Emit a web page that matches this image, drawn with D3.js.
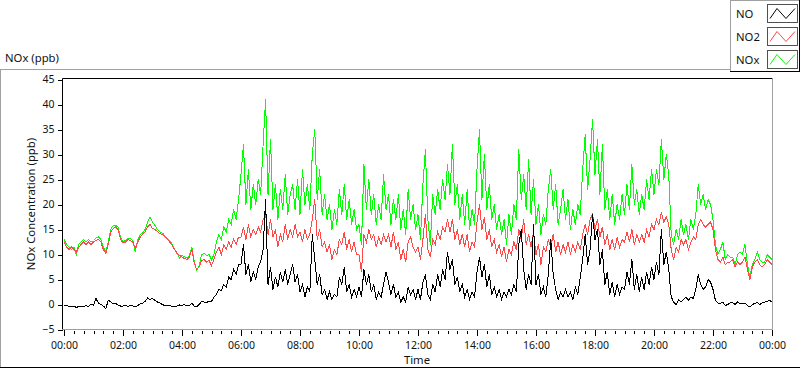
<!DOCTYPE html>
<html>
<head>
<meta charset="utf-8">
<script src="https://cdnjs.cloudflare.com/ajax/libs/d3/7.8.5/d3.min.js"></script>
<style>
  body { margin: 0; background: #fff; }
  text { font-family: "Noto Sans", "Open Sans", sans-serif; fill: #111; }
</style>
</head>
<body>
<div class="chart"></div>
<script>
var svgWidth = 800;
var svgHeight = 369;

// one reading every 5 minutes, 00:00 to 24:00
var stepMinutes = 5;

var noValues = [
  -0.3, -0.2, -0.4, -0.5, -0.3, -0.6, -0.4, -0.3, -0.5, -0.2, -0.4, 0.1,
  -0.2, 1.2, 0.3, 0, -0.3, -0.8, 0.8, 0.6, 0.1, 0.2, -0.1, -0.3,
  -0.3, -0.2, -0.4, -0.2, -0.3, -0.5, -0.2, 0.1, 0.3, 0.6, 1.3, 1.0,
  1.2, 0.8, 0.5, 0.3, 0, -0.2, -0.3, -0.2, -0.4, -0.5, -0.3, -0.1,
  -0.2, 0, -0.3, -0.2, 0.2, -0.3, -0.4, 0, 0.6, 0.5, 0.4, 0.7,
  0.6, 1.5, 2, 3, 2.8, 4, 3.5, 5.5, 5, 7, 6, 8,
  8, 12, 6, 8, 4.5, 6.5, 5, 7.5, 8.5, 11, 21, 4,
  7.5, 3, 5.5, 3.5, 6.5, 4.5, 7, 4, 6, 8, 4.5, 6,
  2.5, 4, 1.5, 3.5, 2.5, 14, 9, 4, 6, 2, 3, 1,
  2.5, 1, 2, 1.5, 5.5, 4, 7.5, 2.5, 4, 1.5, 3, 1.5,
  3.5, 1.5, 7, 4, 6, 2.5, 4, 1, 2.5, 1.5, 4, 6.5,
  4.5, 2, 4, 1.5, 2.5, 0.5, 1.5, 0.5, 3.5, 2, 3, 1,
  3, 1, 4.5, 6, 2, 1, 4, 2.5, 6, 3.5, 7, 5,
  10.5, 7, 9, 4, 5.5, 2.5, 4, 1.5, 3, 1, 2.5, 1.5,
  6.5, 9.5, 5.5, 8, 3.5, 6, 2, 3.5, 1.5, 3, 1, 2.5,
  1.5, 3, 2, 4, 2.5, 12, 15, 7, 3, 6, 4, 16,
  4, 6, 2, 3.5, 1.5, 6, 13, 6, 3, 1, 2.5, 1.5,
  3, 1.5, 2.5, 1, 3.5, 2, 5.5, 9, 14, 8, 11, 18,
  13, 15, 8, 11, 4, 6.5, 2, 4.5, 1.5, 4, 2, 3.5,
  3, 6.5, 4, 9, 3, 6, 2.5, 5.5, 3, 6.5, 4, 7.5,
  5, 8.5, 6, 15, 8, 10.5, 7, 1.5, 0.5, 0, 1, 0.5,
  1, 1.5, 0.8, 1.5, 1.2, 3, 6, 4, 3, 3.5, 5, 4.5,
  3, 0.8, 0.3, 0.2, 0.5, -0.2, 0, 0.3, 0.4, 0, 0.5, 0.2,
  0.2, 0.3, -0.2, -0.5, 0, 0.2, 0.4, 0, 0.3, 0.5, 0.6, 0.8, 0.5
];

var no2Values = [
  12.5, 11.5, 11, 11.5, 11, 10.5, 11.5, 12, 12.5, 12, 12.5, 12,
  12.5, 12.8, 13, 12.5, 11, 10.2, 12, 14.5, 15.2, 15.5, 15, 13,
  12.3, 12.5, 13, 12.8, 12.5, 11.2, 12.5, 13.5, 14, 14.5, 15.5, 16,
  15.2, 15, 14.6, 14.2, 14, 13.5, 13, 12.5, 11.8, 11, 10.3, 9.8,
  9.5, 9.2, 9, 9.5, 11, 8.2, 7, 7.5, 8.8, 9, 8.5, 8.8,
  7.8, 9, 10.5, 11.5, 10, 12, 11, 12.5, 11.5, 13, 12, 13.5,
  13.5, 15.5, 13, 16, 13.5, 15, 14, 15.5, 14.5, 17, 18, 14,
  17, 13.5, 15, 11.5, 14, 12.5, 16, 13, 15, 13.5, 16, 13.5,
  14.5, 12.5, 15, 13, 14, 17, 21, 13, 15, 11.5, 12.5, 10.5,
  12, 9, 11, 10, 13, 12, 14.5, 11, 13, 10.5, 12.5, 10,
  10, 6.5, 14, 12.5, 15, 13, 14, 11.5, 13.5, 12, 14, 12.5,
  14, 11.5, 14.5, 11, 12.5, 9, 11, 8.5, 12.5, 13.5, 11.5, 10.5,
  11.5, 9, 13, 18, 11, 9.5, 13, 12, 14.5, 13, 15.5, 14.5,
  17, 14.5, 17, 13, 15, 12, 14, 11.5, 14, 10.5, 12.5, 11.5,
  16.5, 20, 15, 17.5, 13, 15, 11.5, 13, 10.5, 12, 9.5, 11.5,
  8.5, 11, 10, 12.5, 11, 15, 13, 17, 12, 14, 11.5, 14.5,
  10, 12, 8, 11.5, 10.5, 13, 11.5, 14, 10.5, 12.5, 10, 12,
  10.5, 12.5, 10, 12, 10.5, 12.5, 11, 14, 16, 14, 17, 18,
  15, 17, 13.5, 15.5, 12, 14, 11, 13, 11, 13.5, 11.5, 13,
  12.5, 14.5, 12.5, 15, 12, 14, 12.5, 14, 12.5, 15, 13.5, 16,
  15, 17, 16, 18.5, 16.5, 17.5, 16, 11, 9, 11.5, 10.5, 13,
  12, 13, 11, 12.5, 13.5, 13, 16, 17, 16, 15.5, 16, 16.5,
  15, 11, 9, 8.5, 9.5, 8, 8.5, 8.5, 9, 7.5, 8.5, 8,
  8.5, 9.5, 7, 5, 7.5, 8.5, 9, 8, 7.5, 8, 9, 8.5, 8
];

var noxValues = [
  13, 12, 11.5, 11, 11.5, 10, 12, 12.5, 13, 12.5, 13, 12.5,
  12.8, 13.3, 13.5, 13, 11.5, 10.5, 12.5, 15, 15.8, 15.8, 15.5, 13.5,
  12.5, 12.8, 13.3, 13.2, 12.8, 10.5, 13, 14, 14.3, 15, 16.5, 17.5,
  16.5, 15.8, 15, 14.5, 14.3, 13.8, 13.3, 12.8, 12, 11, 10.2, 9.3,
  9.8, 9.6, 9.3, 9.8, 11.5, 8.5, 6.8, 7.8, 10, 10.2, 9.8, 10,
  9, 10, 12.5, 14, 13, 15.5, 14.5, 17, 16, 19, 17, 21,
  26, 32, 20, 27, 19, 24, 20, 25, 22, 32, 41, 22,
  33, 19, 24, 17, 23, 19, 26, 18, 22, 24, 19, 25,
  18, 27, 20, 24, 19, 30, 35, 21, 27, 18, 22, 17,
  20, 15, 19, 16, 23, 18, 24, 17, 21, 16, 19, 15,
  16, 12, 28, 19, 25, 18, 22, 16, 20, 17, 26, 19,
  22, 16, 21, 17, 22, 15, 19, 14, 23, 17, 20, 15,
  18, 13, 24, 31, 17, 12, 22, 18, 23, 19, 25, 21,
  28, 22, 32, 20, 24, 17, 22, 16, 23, 15, 19, 16,
  27, 35, 21, 30, 19, 24, 17, 20, 15, 18, 14, 17,
  12, 18, 14, 20, 17, 31, 21, 26, 19, 29, 18, 25,
  16, 20, 14, 18, 16, 23, 27, 19, 24, 16, 19, 23,
  17, 21, 15, 19, 16, 20, 18, 27, 34, 23, 29, 37,
  26, 33, 22, 32, 19, 23, 17, 22, 16, 20, 17, 22,
  18, 24, 19, 28, 20, 23, 18, 22, 19, 25, 21, 27,
  22, 27, 24, 33, 25, 30, 26, 14, 12, 15, 13, 17,
  14, 16, 13, 17, 15, 18, 24, 20, 22, 19, 21, 20,
  17, 12, 10, 11, 12.5, 9, 10, 9.5, 9.5, 8, 10, 10.5,
  10, 12, 8, 5.5, 8, 9, 10.5, 9, 8.5, 8.5, 10, 9.5, 9
];

var seriesNames = ["NO", "NO2", "NOx"];
var seriesColors = ["#000000", "#ff4848", "#00ff00"];

var yTickValues = [-5, 0, 5, 10, 15, 20, 25, 30, 35, 40, 45];
var xTickValues = [0, 120, 240, 360, 480, 600, 720, 840, 960, 1080, 1200, 1320, 1440];
var xTickLabels = ["00:00", "02:00", "04:00", "06:00", "08:00", "10:00", "12:00",
  "14:00", "16:00", "18:00", "20:00", "22:00", "00:00"];

// plot box edges (pixels)
var plot = { left: 62.5, right: 772.5, top: 78.5, bottom: 329.5 };

var svg = d3
  .select(".chart")
  .append("svg")
  .attr("width", svgWidth)
  .attr("height", svgHeight);

var xScale = d3.scaleLinear()
  .domain([0, 1440])
  .range([64, 772]);

var yScale = d3.scaleLinear()
  .domain([-5, 45])
  .range([329.5, 79.5]);

// outer panel frame
svg.append("line").attr("x1", 0.5).attr("y1", 69.5).attr("x2", 0.5).attr("y2", 368)
  .attr("stroke", "#a0a0a0");
svg.append("line").attr("x1", 0).attr("y1", 69.5).attr("x2", 731).attr("y2", 69.5)
  .attr("stroke", "#a0a0a0");
svg.append("line").attr("x1", 0).attr("y1", 367.5).attr("x2", 800).attr("y2", 367.5)
  .attr("stroke", "#000");

// plot frame: dark top/left, grey bottom/right
svg.append("line").attr("x1", plot.left).attr("y1", plot.top).attr("x2", plot.right).attr("y2", plot.top)
  .attr("stroke", "#000");
svg.append("line").attr("x1", plot.left).attr("y1", plot.top).attr("x2", plot.left).attr("y2", plot.bottom)
  .attr("stroke", "#000");
svg.append("line").attr("x1", plot.right).attr("y1", plot.top).attr("x2", plot.right).attr("y2", plot.bottom)
  .attr("stroke", "#a0a0a0");
svg.append("line").attr("x1", plot.left).attr("y1", plot.bottom).attr("x2", plot.right).attr("y2", plot.bottom)
  .attr("stroke", "#a0a0a0");

// y axis
var leftAxis = d3.axisLeft(yScale)
  .tickValues(yTickValues)
  .tickSize(5)
  .tickPadding(3);

var yAxis = svg.append("g")
  .attr("transform", `translate(${plot.left}, 0)`)
  .call(leftAxis);
yAxis.select(".domain").remove();
yAxis.selectAll("text")
  .style("font-family", '"Noto Sans", sans-serif')
  .style("font-size", "10.5px")
  .attr("fill", "#111");

// x axis, minor ticks every 20 minutes then labelled ticks every 2 hours
var minorAxis = d3.axisBottom(xScale)
  .tickValues(d3.range(0, 1441, 20))
  .tickSize(3)
  .tickFormat("");

svg.append("g")
  .attr("transform", `translate(0, ${plot.bottom + 1.5})`)
  .call(minorAxis)
  .select(".domain").remove();

var bottomAxis = d3.axisBottom(xScale)
  .tickValues(xTickValues)
  .tickFormat((d, i) => xTickLabels[i])
  .tickSize(6)
  .tickPadding(6);

var xAxis = svg.append("g")
  .attr("transform", `translate(0, ${plot.bottom})`)
  .call(bottomAxis);
xAxis.select(".domain").remove();
xAxis.selectAll("text")
  .style("font-family", '"Noto Sans", sans-serif')
  .style("font-size", "10.5px")
  .attr("fill", "#111");

svg.selectAll(".tick line")
  .attr("stroke", "#000")
  .attr("shape-rendering", "crispEdges");

// axis titles
svg.append("text")
  .attr("transform", "rotate(-90)")
  .attr("x", -204)
  .attr("y", 35)
  .attr("text-anchor", "middle")
  .style("font-size", "11.3px")
  .text("NOx Concentration (ppb)");

svg.append("text")
  .attr("x", 417)
  .attr("y", 364)
  .attr("text-anchor", "middle")
  .style("font-size", "11.3px")
  .text("Time");

svg.append("text")
  .attr("x", 5)
  .attr("y", 62)
  .style("font-size", "11.3px")
  .text("NOx (ppb)");

// data lines, NOx under NO2 under NO
var line = d3.line()
  .x((d, i) => xScale(i * stepMinutes))
  .y(d => yScale(d));

var seriesData = [noValues, no2Values, noxValues];

[2, 1, 0].forEach(function(k) {
  svg.append("path")
    .datum(seriesData[k])
    .attr("d", line)
    .attr("fill", "none")
    .attr("stroke", seriesColors[k])
    .attr("stroke-width", 1)
    .attr("shape-rendering", "crispEdges");
});

// legend box
var legend = svg.append("g");

legend.append("line").attr("x1", 730.5).attr("y1", 0.5).attr("x2", 799.5).attr("y2", 0.5)
  .attr("stroke", "#a0a0a0");
legend.append("line").attr("x1", 730.5).attr("y1", 0).attr("x2", 730.5).attr("y2", 72)
  .attr("stroke", "#a0a0a0");
legend.append("line").attr("x1", 730).attr("y1", 71.5).attr("x2", 800).attr("y2", 71.5)
  .attr("stroke", "#000");
legend.append("line").attr("x1", 799.5).attr("y1", 0).attr("x2", 799.5).attr("y2", 72)
  .attr("stroke", "#000");

var swatchZigzag = d3.line()
  .x(d => d[0])
  .y(d => d[1]);

seriesNames.forEach(function(name, i) {
  var rowMid = 13.5 + i * 23;

  legend.append("text")
    .attr("x", 736)
    .attr("y", rowMid + 4)
    .style("font-size", "11.3px")
    .text(name);

  legend.append("rect")
    .attr("x", 767.5)
    .attr("y", rowMid - 9)
    .attr("width", 30)
    .attr("height", 18)
    .attr("fill", "#fff")
    .attr("stroke", "#505050")
    .attr("shape-rendering", "crispEdges");

  legend.append("path")
    .attr("d", swatchZigzag([[770, rowMid + 5], [777, rowMid - 5], [786, rowMid + 5], [795, rowMid - 5]]))
    .attr("fill", "none")
    .attr("stroke", seriesColors[i])
    .attr("stroke-width", 1);
});
</script>
</body>
</html>
